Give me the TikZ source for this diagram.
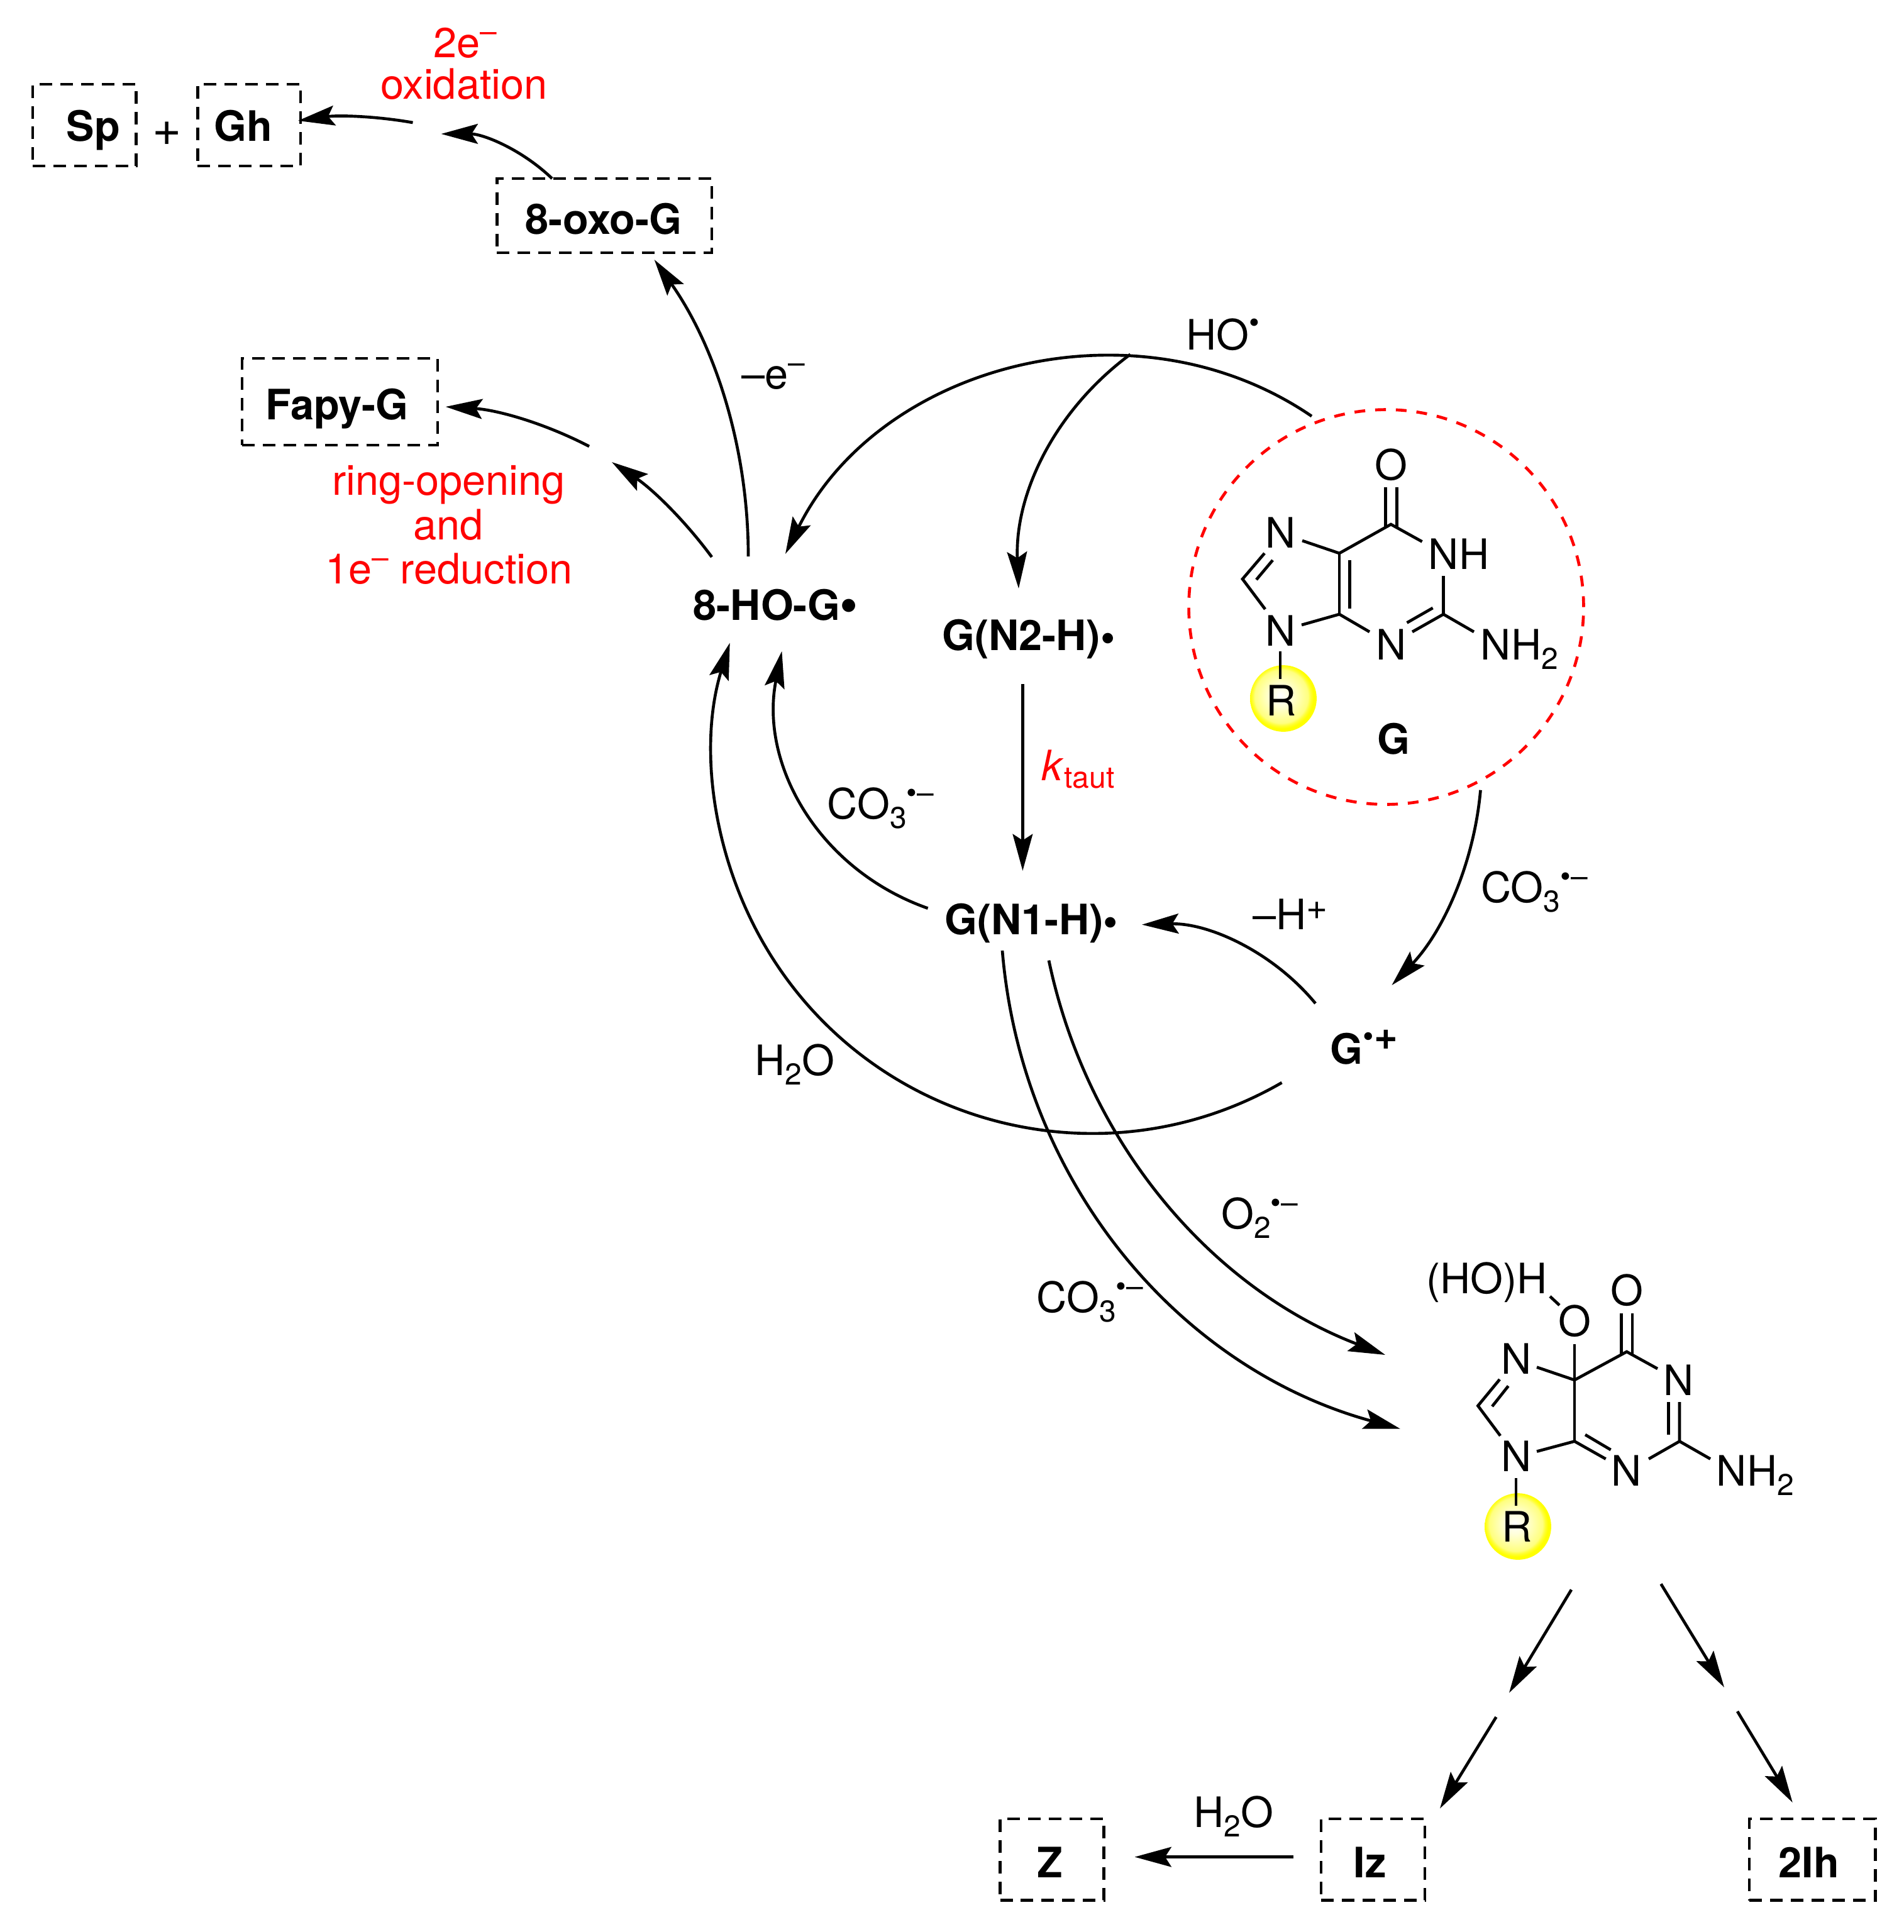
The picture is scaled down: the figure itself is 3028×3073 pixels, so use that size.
\documentclass[tikz,border=0pt]{standalone}
\usepackage{fontspec}
\setmainfont{TeX Gyre Heros}
\usetikzlibrary{arrows.meta}
\pgfdeclareradialshading{ysph}{\pgfpoint{-2.5bp}{2.5bp}}{rgb(0bp)=(1,1,1); rgb(8bp)=(1,1,0.85); rgb(20bp)=(1,1,0.5); rgb(22bp)=(1,1,0.2); rgb(24bp)=(1,1,0); rgb(50bp)=(1,1,0)}
\newcommand{\lowt}[1]{\raisebox{-3.6pt}{\fontsize{11.5}{12}\selectfont #1}}
\newcommand{\hight}[1]{\raisebox{6pt}{\fontsize{11.5}{12}\selectfont #1}}
\newcommand{\rad}{\raisebox{-0.2pt}{\fontsize{16}{16}\selectfont •}}
\newcommand{\radb}{\raisebox{-0.5pt}{\fontsize{20}{20}\selectfont •}}
\tikzset{
  lab/.style={anchor=base,inner sep=0pt,font=\fontsize{16}{19}\selectfont},
  labw/.style={lab,anchor=base west},
  blab/.style={lab,font=\fontsize{16}{19}\selectfont\bfseries},
  blabw/.style={blab,anchor=base west},
  rlab/.style={lab,text=red},
  rlabw/.style={labw,text=red},
  bond/.style={line width=1.12pt,line join=miter,line cap=butt},
  rxn/.style={line width=1.12pt,-{Stealth[length=14pt,width=7.6pt,inset=2.4pt]}},
  dbox/.style={draw,rectangle,line width=1.12pt,dash pattern=on 4.8pt off 3.1pt,inner sep=0pt},
  dcirc/.style={draw=red,circle,line width=1.12pt,dash pattern=on 4.1pt off 3.8pt,inner sep=0pt,minimum size=150.7pt},
  ball/.style={circle,shade,shading=ysph,inner sep=0pt,minimum size=25.4pt}
}
\begin{document}
\begin{tikzpicture}[x=0.24pt,y=-0.24pt]
\useasboundingbox (0,0) rectangle (3028,3073);

% --- dashed boxes
\node[dbox,minimum width=39.5pt,minimum height=31.2pt] (bsp) at (134.2,199) {};
\node[dbox,minimum width=39.3pt,minimum height=31.2pt] (bgh) at (396.2,199) {};
\node[dbox,minimum width=82pt,minimum height=28.3pt] (boxo) at (961,343) {};
\node[dbox,minimum width=74.6pt,minimum height=33.1pt] (bfapy) at (540.5,639) {};
\node[dbox,minimum width=39.6pt,minimum height=31.1pt] (bz) at (1673,2957.8) {};
\node[dbox,minimum width=39.6pt,minimum height=31.1pt] (biz) at (2183.5,2957.8) {};
\node[dbox,minimum width=48.1pt,minimum height=31.1pt] (bih) at (2882.3,2957.8) {};

% --- box texts
\node[blab] (tsp) at (148.5,224.5) {Sp};
\node[blab] (tgh) at (387,224.5) {Gh};
\node[lab,font=\fontsize{19}{20}\selectfont] (tplus) at (266,232) {+};
\node[blab] (toxo) at (960,372.8) {8-oxo-G};
\node[blab] (tfapy) at (536,667.4) {Fapy-G};
\node[blab] (tz) at (1669.7,2986.8) {Z};
\node[blab] (tiz) at (2178.6,2986.8) {Iz};
\node[blab] (tih) at (2877,2986.8) {2Ih};

% --- species labels
\node[blabw] (hog) at (1101.8,986.6) {8-HO-G\radb};
\node[blabw] (n2h) at (1497.5,1034.4) {G(N2-H)\rad};
\node[blabw] (n1h) at (1501.7,1486.8) {G(N1-H)\rad};
\node[blabw] (gplus) at (2115,1692) {G\raisebox{6.8pt}{\fontsize{12}{12}\selectfont •}\raisebox{5.4pt}{\fontsize{15.5}{16}\selectfont +}};

% --- reagent labels
\node[labw] (tho) at (1885.4,556.6) {HO\raisebox{6.5pt}{\fontsize{11.5}{12}\selectfont •}};
\node[labw] (tme) at (1178.9,618.4) {–e\hight{–}};
\node[labw] (tco1) at (1315,1302) {CO\lowt{3}\hight{•–}};
\node[labw] (tco2) at (2354.6,1435) {CO\lowt{3}\hight{•–}};
\node[labw] (tco3) at (1648,2087.4) {CO\lowt{3}\hight{•–}};
\node[labw] (to2) at (1941.5,1954) {O\lowt{2}\hight{•–}};
\node[labw] (th2o) at (1199.4,1710) {H\lowt{2}O};
\node[labw] (th2ob) at (1897.6,2906) {H\lowt{2}O};
\node[labw] (tmh) at (1991.5,1478.6) {–H\raisebox{3.8pt}{\fontsize{14}{15}\selectfont +}};

% --- red labels
\node[rlabw] (t2e) at (689,91.5) {2e\hight{–}};
\node[rlab] (toxi) at (738,157.6) {oxidation};
\node[rlab] (tring) at (713.5,787) {ring-opening};
\node[rlab] (tand) at (713,858.7) {and};
\node[rlab] (t1e) at (714,928.6) {1e\hight{–} reduction};
\node[rlabw] (tk) at (1656,1241) {\textit{k}\raisebox{-2.9pt}{\fontsize{11.5}{12}\selectfont taut}};

% --- connector end points
\coordinate (aR) at (2086,662);
\coordinate (aHO) at (1249,881);
\coordinate (j) at (1797.6,563.6);
\coordinate (aN2) at (1620,936);
\coordinate (s8a) at (1190,885);
\coordinate (tOxo) at (1040.6,413);
\coordinate (s8b) at (1132,886);
\coordinate (m1) at (973,735);
\coordinate (m2) at (937,710);
\coordinate (tFapy) at (708.7,647);
\coordinate (sOxo) at (878,284);
\coordinate (m3) at (701.6,213);
\coordinate (m4) at (656.5,195);
\coordinate (tGh) at (474,192);
\coordinate (sN2) at (1626.4,1088);
\coordinate (tN1) at (1626.4,1385);
\coordinate (sN1a) at (1475.6,1444.7);
\coordinate (tHOa) at (1243.4,1035.8);
\coordinate (sGp) at (2038.5,1722);
\coordinate (sN1b) at (1594,1512);
\coordinate (tPb) at (2226.8,2272.6);
\coordinate (sN1c) at (1668,1527.6);
\coordinate (tPa) at (2203,2155);
\coordinate (sG) at (2354.5,1256.7);
\coordinate (tGp) at (2213.4,1567);
\coordinate (sGq) at (2092,1596);
\coordinate (tN1b) at (1816,1470.7);
\coordinate (a1s) at (2499,2528.5);
\coordinate (a1t) at (2400,2692.6);
\coordinate (a2s) at (2379.4,2731);
\coordinate (a2t) at (2290,2876.5);
\coordinate (b1s) at (2641.5,2519.4);
\coordinate (b1t) at (2742,2683.8);
\coordinate (b2s) at (2763,2722);
\coordinate (b2t) at (2850.7,2867);
\coordinate (zs) at (2057,2953.6);
\coordinate (zt) at (1804.5,2953.6);

% --- connectors
\draw[rxn] (aR) to[bend right=49,looseness=1] (aHO);
\draw[rxn] (j) to[bend right=28,looseness=0.93] (aN2);
\draw[rxn] (s8a) to[bend right=17.6,looseness=0.88] (tOxo);
\draw[rxn] (s8b) to[bend right=10,looseness=0.88] (m1);
\draw[rxn] (m2) to[bend right=12,looseness=0.88] (tFapy);
\draw[rxn] (sOxo) to[bend right=22,looseness=0.9] (m3);
\draw[rxn] (m4) to[bend right=9,looseness=0.88] (tGh);
\draw[rxn] (sN2) -- (tN1);
\draw[rxn] (sN1a) to[bend left=41,looseness=1] (tHOa);
\draw[rxn] (sGp) arc[start angle=60,end angle=197.1,radius=603];
\draw[rxn] (sN1b) to[bend right=35,looseness=0.95] (tPb);
\draw[rxn] (sN1c) to[bend right=28.6,looseness=0.92] (tPa);
\draw[rxn] (sG) to[bend left=19.4,looseness=0.88] (tGp);
\draw[rxn] (sGq) to[bend right=26,looseness=0.9] (tN1b);
\draw[rxn] (a1s) -- (a1t);
\draw[rxn] (a2s) -- (a2t);
\draw[rxn] (b1s) -- (b1t);
\draw[rxn] (b2s) -- (b2t);
\draw[rxn] (zs) -- (zt);

% --- guanine G
\node[dcirc] (gcirc) at (2204.5,965.5) {};
\node[ball] (gball) at (2041,1111) {};
\node[lab] (gO) at (2212.5,763) {O};
\node[lab] (gN7) at (2036.3,871) {N};
\node[lab] (gN9) at (2036.3,1027) {N};
\node[lab] (gN3) at (2212.5,1049.5) {N};
\node[lab] (gN1) at (2320,905.7) {NH};
\node[labw] (gNH2) at (2354,1049.5) {NH\lowt{2}};
\node[lab] (gR) at (2038,1138) {R};
\node[blab] (gG) at (2216,1199.5) {G};
\coordinate (gC6) at (2212,834);
\coordinate (gC5) at (2130,880);
\coordinate (gC4) at (2130,977);
\coordinate (gC2) at (2295.5,977);
\coordinate (gC8) at (1976,921);
\coordinate (g7a) at (2071,860);
\coordinate (g1a) at (2261.6,861.5);
\coordinate (g9a) at (2070,994);
\coordinate (g3a) at (2178,1005);
\coordinate (gi1) at (2146.4,891);
\coordinate (gi2) at (2146.4,968);
\coordinate (g1b) at (2295.5,916);
\coordinate (g3b) at (2246,1005);
\coordinate (gi3) at (2278.6,967);
\coordinate (gi4) at (2237.5,990.5);
\coordinate (gNe) at (2344,1005);
\coordinate (g7b) at (2011,880);
\coordinate (g9b) at (2012,969);
\coordinate (gi5) at (1998,922);
\coordinate (gi6) at (2024,891);
\coordinate (gRa) at (2036,1036);
\coordinate (gRb) at (2036,1080);
\coordinate (gOa) at (2203.6,775);
\coordinate (gOb) at (2203.6,838);
\coordinate (gOc) at (2221.4,775);
\coordinate (gOd) at (2221.4,838);
\draw[bond] (g7a) -- (gC5) -- (gC6) -- (g1a);
\draw[bond] (gC5) -- (gC4);
\draw[bond] (g9a) -- (gC4) -- (g3a);
\draw[bond] (gi1) -- (gi2);
\draw[bond] (g1b) -- (gC2) -- (g3b);
\draw[bond] (gi3) -- (gi4);
\draw[bond] (gC2) -- (gNe);
\draw[bond] (g7b) -- (gC8) -- (g9b);
\draw[bond] (gi5) -- (gi6);
\draw[bond] (gRa) -- (gRb);
\draw[bond] (gOa) -- (gOb);
\draw[bond] (gOc) -- (gOd);

% --- peroxyl intermediate
\node[ball] (pball) at (2414,2428) {};
\node[lab] (pHO) at (2364.5,2057) {(HO)H};
\node[lab] (pOa) at (2504,2125) {O};
\node[lab] (pOb) at (2587,2076) {O};
\node[lab] (pN7) at (2411.6,2185.4) {N};
\node[lab] (pN1) at (2670,2219) {N};
\node[lab] (pN9) at (2411.6,2340) {N};
\node[lab] (pN3) at (2586.6,2363) {N};
\node[labw] (pNH2) at (2729,2363) {NH\lowt{2}};
\node[lab] (pR) at (2412.5,2452.5) {R};
\coordinate (pC5) at (2504,2195);
\coordinate (pC4) at (2504,2292.5);
\coordinate (pC6) at (2587,2150);
\coordinate (pC2) at (2671,2292.5);
\coordinate (pC8) at (2350.4,2236);
\coordinate (phA) at (2465,2062);
\coordinate (phB) at (2480,2076);
\coordinate (poT) at (2504,2137.5);
\coordinate (p1a) at (2636,2177);
\coordinate (p1b) at (2671,2230);
\coordinate (p1c) at (2653.6,2230);
\coordinate (p1d) at (2653.6,2282);
\coordinate (p3b) at (2622,2320.5);
\coordinate (p3a) at (2553.6,2320.5);
\coordinate (pi1) at (2521,2282);
\coordinate (pi2) at (2561.6,2306);
\coordinate (pNe) at (2720,2320.5);
\coordinate (p7a) at (2444,2174.6);
\coordinate (p7b) at (2385,2194);
\coordinate (pi3) at (2373,2237);
\coordinate (pi4) at (2398.7,2204.5);
\coordinate (p9b) at (2386,2283.7);
\coordinate (p9a) at (2444,2308.6);
\coordinate (pRa) at (2411,2351);
\coordinate (pRb) at (2411,2395);
\coordinate (pOa1) at (2578.6,2088.5);
\coordinate (pOa2) at (2578.6,2155);
\coordinate (pOb1) at (2596,2088.5);
\coordinate (pOb2) at (2596,2155);
\draw[bond] (phA) -- (phB);
\draw[bond] (poT) -- (pC4);
\draw[bond] (p7a) -- (pC5) -- (pC6) -- (p1a);
\draw[bond] (p1b) -- (pC2) -- (p3b);
\draw[bond] (p1c) -- (p1d);
\draw[bond] (p9a) -- (pC4) -- (p3a);
\draw[bond] (pi1) -- (pi2);
\draw[bond] (pC2) -- (pNe);
\draw[bond] (p7b) -- (pC8) -- (p9b);
\draw[bond] (pi3) -- (pi4);
\draw[bond] (pRa) -- (pRb);
\draw[bond] (pOa1) -- (pOa2);
\draw[bond] (pOb1) -- (pOb2);
\end{tikzpicture}
\end{document}
